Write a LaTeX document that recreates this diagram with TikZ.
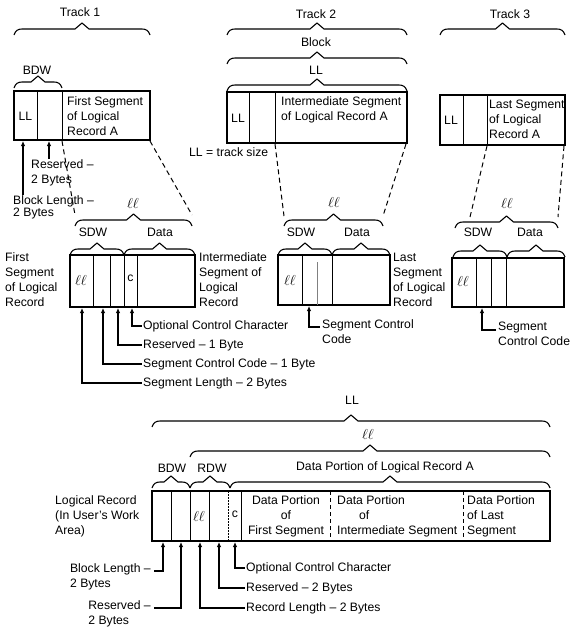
\documentclass[tikz,border=0pt]{standalone}
\usepackage{fontspec}
\setmainfont{Liberation Sans}
\usetikzlibrary{arrows.meta}
\newcommand\hbr[3]{\draw[brc] (#1,#3+6) .. controls (#1+1.5,#3+1.5) and (#1+4,#3) .. (#1+8,#3) -- ({(#1+#2)/2-7},#3) -- ({(#1+#2)/2},#3-6) -- ({(#1+#2)/2+7},#3) -- (#2-8,#3) .. controls (#2-4,#3) and (#2-1.5,#3+1.5) .. (#2,#3+6);}
\begin{document}
\begin{tikzpicture}[x=1pt,y=-1pt,
  every node/.style={font=\fontsize{12.2}{15}\selectfont, inner sep=0pt},
  ellsty/.style={font=\fontsize{14}{15}\selectfont},
  box/.style={line width=1.4pt},
  div/.style={line width=0.8pt},
  thindiv/.style={line width=0.5pt, gray},
  dotdiv/.style={line width=0.6pt, dash pattern=on 2pt off 1pt},
  dshdiv/.style={line width=0.7pt, dash pattern=on 4pt off 3pt},
  brc/.style={line width=1.1pt, line join=round},
  dsh/.style={line width=1pt, dash pattern=on 5pt off 3.5pt},
  arr/.style={line width=1.2pt, -{Latex[length=5pt,width=4.5pt]}},
  lbl/.style={align=left},
]
\useasboundingbox (0,0) rectangle (572,629);

% ---------------- Track 1 ----------------
\node (tr1) at (80,12) {Track 1};
\hbr{14}{150}{29}
\node (bdw1) at (37,70) {BDW};
\hbr{14}{62}{82}
\draw[box] (14,91) rectangle (150,140);
\draw[div] (37,91) -- (37,140) (62,91) -- (62,140);
\node (ll1) at (25.5,116) {LL};
\node[lbl, anchor=west] (fs1) at (67,116) {First Segment\\of Logical\\Record A};
\node[lbl, anchor=north west] (res1) at (31,159) {Reserved –\\2 Bytes};
\node[lbl, anchor=north west] (bl1) at (13,195) {Block Length –\\[-3pt]2 Bytes};
\coordinate (a1) at (23,141);
\coordinate (a2) at (49,141);
\draw[arr] (a1 |- bl1.north) -- (a1);
\draw[arr] (a2 |- res1.north) -- (a2);
\coordinate (d1a) at (62,141); \coordinate (d1b) at (75,215);
\coordinate (d1c) at (150,141); \coordinate (d1d) at (192,215);
\draw[dsh] (d1a) -- (d1b) (d1c) -- (d1d);

\hbr{75}{192}{220}
\node[ellsty] (ell1) at (133,203) {$\ell\ell$};
\node (sdw1) at (93,232) {SDW};
\node (dat1) at (160,232) {Data};
\hbr{70}{124}{249}
\hbr{124}{195}{249}
\draw[box] (70,255) rectangle (195,307);
\draw[div] (93,255) -- (93,307) (110,255) -- (110,307) (124,255) -- (124,307) (137,255) -- (137,307);
\node[ellsty] (ell1b) at (81,280) {$\ell\ell$};
\node (c1) at (130.5,278) {c};
\node[lbl, anchor=west] (fsl) at (5,280) {First\\Segment\\of Logical\\Record};
\node[lbl, anchor=west] (isl) at (199,280) {Intermediate\\Segment of\\Logical\\Record};
\node[anchor=west] (o1) at (143,326) {Optional Control Character};
\node[anchor=west] (r1) at (143,345) {Reserved – 1 Byte};
\node[anchor=west] (sc1) at (143,364) {Segment Control Code – 1 Byte};
\node[anchor=west] (sl1) at (143,383) {Segment Length – 2 Bytes};
\coordinate (b1) at (132,308);
\coordinate (b2) at (118,308);
\coordinate (b3) at (103,308);
\coordinate (b4) at (82,308);
\draw[arr] ([xshift=-1.5pt]o1.west) -| (b1);
\draw[arr] ([xshift=-1.5pt]r1.west) -| (b2);
\draw[arr] ([xshift=-1.5pt]sc1.west) -| (b3);
\draw[arr] ([xshift=-1.5pt]sl1.west) -| (b4);

% ---------------- Track 2 ----------------
\node (tr2) at (316,14) {Track 2};
\hbr{227}{407}{29}
\node (blk) at (316,42) {Block};
\hbr{227}{407}{58}
\node (ll2t) at (316,70) {LL};
\hbr{227}{407}{85}
\draw[box] (227,92) rectangle (407,143);
\draw[div] (249,92) -- (249,143) (275,92) -- (275,143);
\node (ll2) at (238,118) {LL};
\node[lbl, anchor=west] (is2) at (281,110) {Intermediate Segment\\of Logical Record A};
\node[anchor=west] (tsz) at (189,152) {LL = track size};
\coordinate (d2a) at (275,144); \coordinate (d2b) at (284,216);
\coordinate (d2c) at (406,144); \coordinate (d2d) at (383,216);
\draw[dsh] (d2a) -- (d2b) (d2c) -- (d2d);

\hbr{284}{383}{220}
\node[ellsty] (ell2) at (334,202) {$\ell\ell$};
\node (sdw2) at (301,232) {SDW};
\node (dat2) at (357,232) {Data};
\hbr{278}{332}{249}
\hbr{332}{390}{249}
\draw[box] (278,255) rectangle (390,305);
\draw[div] (302,255) -- (302,305) (332,255) -- (332,305);
\draw[thindiv] (317,262) -- (317,305);
\node[ellsty] (ell2b) at (290,280) {$\ell\ell$};
\node[lbl, anchor=north west] (sc2) at (322,319) {Segment Control\\Code};
\coordinate (s5) at (320,327);
\coordinate (b5) at (309,306);
\draw[arr] (s5) -| (b5);
\node[lbl, anchor=west] (lsl) at (393,280) {Last\\Segment\\of Logical\\Record};

% ---------------- Track 3 ----------------
\node (tr3) at (510,14) {Track 3};
\hbr{440}{565}{29}
\draw[box] (440,95) rectangle (565,145);
\draw[div] (463,95) -- (463,145) (487,95) -- (487,145);
\node (ll3) at (451,120) {LL};
\node[lbl, anchor=west] (ls3) at (489,119) {Last Segment\\of Logical\\Record A};
\coordinate (d3a) at (487,146); \coordinate (d3b) at (470,217);
\coordinate (d3c) at (564,146); \coordinate (d3d) at (558,217);
\draw[dsh] (d3a) -- (d3b) (d3c) -- (d3d);

\hbr{455}{558}{222}
\node[ellsty] (ell3) at (507,203) {$\ell\ell$};
\node (sdw3) at (478,232) {SDW};
\node (dat3) at (530,232) {Data};
\hbr{453}{507}{251}
\hbr{507}{565}{251}
\draw[box] (452,258) rectangle (564,307);
\draw[div] (476,258) -- (476,307) (491,258) -- (491,307) (506,258) -- (506,307);
\node[ellsty] (ell3b) at (463,281) {$\ell\ell$};
\node[lbl, anchor=north west] (sc3) at (498,322) {Segment\\Control Code};
\coordinate (s6) at (496,330);
\coordinate (b6) at (482,308);
\draw[arr] (s6) -| (b6);

% ---------------- Logical record ----------------
\node (llb) at (352,400) {LL};
\hbr{152}{550}{421}
\node[ellsty] (ellb) at (368,434) {$\ell\ell$};
\hbr{190}{550}{451}
\node (dpl) at (385,467) {Data Portion of Logical Record A};
\node (bdw2) at (172,468) {BDW};
\node (rdw) at (212,468) {RDW};
\hbr{152}{190}{482}
\hbr{190}{230}{482}
\hbr{230}{550}{482}
\draw[box] (152,491) rectangle (550,541);
\draw[div] (171,491) -- (171,541) (190,491) -- (190,541) (209,491) -- (209,541) (241,491) -- (241,541);
\draw[dotdiv] (228,491) -- (228,541);
\draw[dshdiv] (330,491) -- (330,541) (463,491) -- (463,541);
\node[ellsty] (ell4) at (199,516) {$\ell\ell$};
\node (c4) at (235,514) {c};
\node[align=center] (dp1) at (286,516) {Data Portion\\of\\First Segment};
\node[lbl, anchor=west] (dp2) at (337,516) {Data Portion\\\hspace*{22pt}of\\Intermediate Segment};
\node[lbl, anchor=west] (dp3) at (467,516) {Data Portion\\of Last\\Segment};
\node[lbl, anchor=west] (lrw) at (55,516) {Logical Record\\(In User's Work\\Area)};

\node[anchor=west] (o2) at (246,568) {Optional Control Character};
\node[anchor=west] (r2) at (246,588) {Reserved – 2 Bytes};
\node[anchor=west] (rl2) at (246,608) {Record Length – 2 Bytes};
\node[lbl, anchor=north east] (bl2) at (151,563) {Block Length –\\2 Bytes};
\node[lbl, anchor=north east] (rs2) at (151,600) {Reserved –\\2 Bytes};
\coordinate (e1) at (235,542);
\coordinate (e2) at (219,542);
\coordinate (e3) at (200,542);
\coordinate (e4) at (163,542);
\coordinate (e5) at (181,542);
\coordinate (lb2) at (154,571);
\coordinate (lr2) at (154,608);
\draw[arr] ([xshift=-1.5pt]o2.west) -| (e1);
\draw[arr] ([xshift=-1.5pt]r2.west) -| (e2);
\draw[arr] ([xshift=-1.5pt]rl2.west) -| (e3);
\draw[arr] (lb2) -| (e4);
\draw[arr] (lr2) -| (e5);
\end{tikzpicture}
\end{document}
